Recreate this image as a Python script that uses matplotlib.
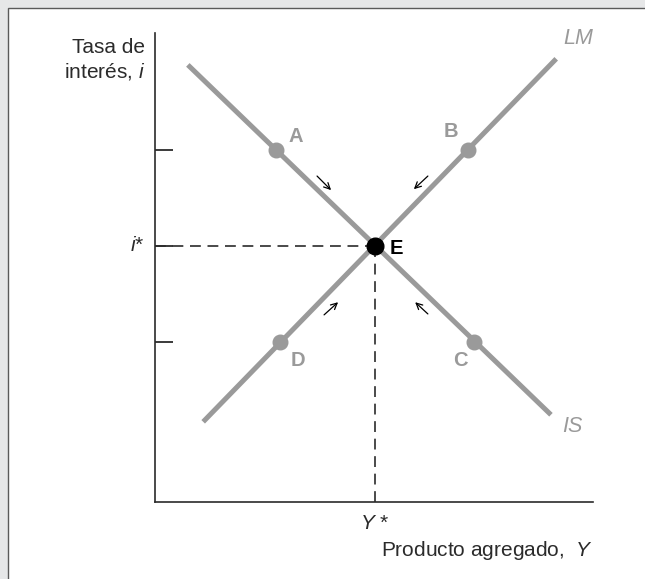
import matplotlib
matplotlib.use("Agg")
from matplotlib import pyplot as plt
from matplotlib.patches import Rectangle

plt.rcParams['font.family'] = ['Liberation Sans', 'DejaVu Sans']
plt.rcParams['mathtext.fontset'] = 'custom'
plt.rcParams['mathtext.it'] = 'Liberation Sans:italic'
plt.rcParams['mathtext.rm'] = 'Liberation Sans'

# Curve endpoints (Y, i) on a 0-100 scale
lm_y = [11.0, 91.6]
lm_i = [17.1, 94.5]
is_y = [7.5, 90.4]
is_i = [93.2, 18.6]

# Equilibrium
eq_y = 50.2
eq_i = 54.6

# Off-equilibrium points
pt_names = ['A', 'B', 'C', 'D']
pt_y = [27.6, 71.5, 72.8, 28.6]
pt_i = [75.1, 75.1, 34.1, 34.1]

# Tick levels on the interest-rate axis
tick_i = [75.1, 54.6, 34.1]

# Adjustment arrows (start, end)
arrows = [((37.0, 69.5), (40.2, 66.5)),
          ((62.3, 69.5), (59.1, 66.7)),
          ((38.6, 39.9), (41.8, 42.6)),
          ((62.3, 40.1), (59.4, 42.6))]

grey = '#9a9a9a'
dark = '#2b2b2b'

fig = plt.figure(figsize=(6.45, 5.79), dpi=100)
fig.patch.set_facecolor('#e6e7e8')
fig.patches.append(Rectangle((8 / 645, -0.01), 1.0, (579 - 7.5) / 579 + 0.01,
                             transform=fig.transFigure, facecolor='white',
                             edgecolor='#5a5a5a', linewidth=1.0, zorder=-1))

ax = fig.add_axes([155 / 645, (579 - 502) / 579, (593 - 155) / 645, (502 - 33) / 579])
ax.set_zorder(2)
ax.set_xlim(0, 100)
ax.set_ylim(0, 100)
ax.patch.set_alpha(0)
for s in ['top', 'right']:
    ax.spines[s].set_visible(False)
for s in ['left', 'bottom']:
    ax.spines[s].set_color(dark)
    ax.spines[s].set_linewidth(1.2)
ax.set_xticks([])
ax.set_yticks([])

# short inward ticks
ax.hlines(tick_i, 0, 4.1, color=dark, lw=1.3, zorder=3)

# dashed guide lines
ax.plot([0, eq_y], [eq_i, eq_i], color=dark, lw=1.2, dashes=(6.5, 4), zorder=2)
ax.plot([eq_y, eq_y], [0, eq_i], color=dark, lw=1.2, dashes=(6.5, 4), zorder=2)

# IS and LM
ax.plot(lm_y, lm_i, color=grey, lw=3.6, solid_capstyle='butt', zorder=3)
ax.plot(is_y, is_i, color=grey, lw=3.6, solid_capstyle='butt', zorder=3)

ax.plot(pt_y, pt_i, 'o', color=grey, markersize=10.5, zorder=4)
ax.plot(eq_y, eq_i, 'o', color='black', markersize=12, zorder=5)

# point labels
lab_off = {'A': (4.5, 2.8), 'B': (-4.0, 4.0), 'C': (-3.0, -4.0), 'D': (4.0, -4.0)}
for n, x, y in zip(pt_names, pt_y, pt_i):
    dx, dy = lab_off[n]
    ax.text(x + dx, y + dy, n, color=grey, fontsize=14.5, fontweight='bold',
            ha='center', va='center')
ax.text(eq_y + 5.0, eq_i - 0.6, 'E', color='black', fontsize=14.5,
        fontweight='bold', ha='center', va='center')

for (x0, y0), (x1, y1) in arrows:
    ax.annotate('', xy=(x1, y1), xytext=(x0, y0),
                arrowprops=dict(arrowstyle='->', color='black', lw=0.9,
                                shrinkA=0, shrinkB=0, mutation_scale=11))

ax.text(lm_y[1] + 1.6, lm_i[1] + 2.0, 'LM', color=grey, fontsize=15.5,
        style='italic', ha='left', va='bottom')
ax.text(is_y[1] + 2.5, is_i[1] - 2.5, 'IS', color=grey, fontsize=15.5,
        style='italic', ha='left', va='center')

# axis labels
ax.text(-2.3, 99.0, 'Tasa de\ninterés, $\\it{i}$', fontsize=15, color=dark,
        ha='right', va='top', linespacing=1.25)
ax.text(-2.3, eq_i, '$\\it{i}$*', fontsize=15, color=dark, ha='right', va='center')
ax.text(eq_y, -4.6, '$\\it{Y}$ *', fontsize=15, color=dark, ha='center', va='center')
ax.text(100, -10.3, 'Producto agregado,  $\\it{Y}$', fontsize=15, color=dark,
        ha='right', va='center')

fig.savefig('out.png', dpi=100, facecolor=fig.get_facecolor())
